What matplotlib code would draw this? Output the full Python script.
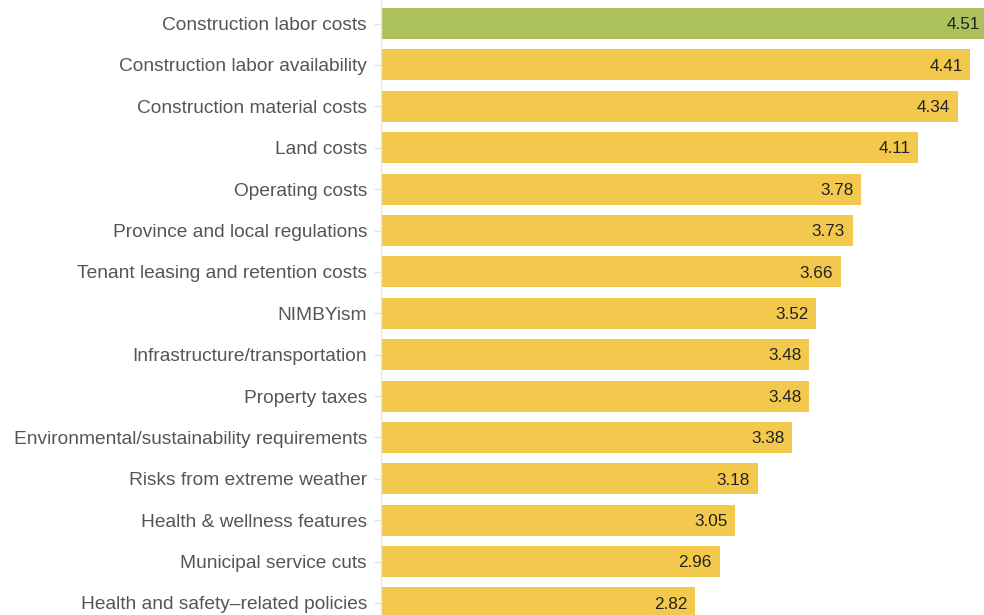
import matplotlib.pyplot as plt

labels = [
    'Construction labor costs',
    'Construction labor availability',
    'Construction material costs',
    'Land costs',
    'Operating costs',
    'Province and local regulations',
    'Tenant leasing and retention costs',
    'NIMBYism',
    'Infrastructure/transportation',
    'Property taxes',
    'Environmental/sustainability requirements',
    'Risks from extreme weather',
    'Health & wellness features',
    'Municipal service cuts',
    'Health and safety\u2013related policies',
]
values = [4.51, 4.41, 4.34, 4.11, 3.78, 3.73, 3.66, 3.52, 3.48, 3.48, 3.38, 3.18, 3.05, 2.96, 2.82]

GREEN = '#adc05e'
YELLOW = '#f2c94c'


def main():
    plt.rcParams['font.family'] = ['Liberation Sans', 'DejaVu Sans']
    fig = plt.figure(figsize=(9.84, 6.15), dpi=100)
    ax = fig.add_axes([381 / 984, 0, 1 - 381 / 984, 1])

    colors = [GREEN] + [YELLOW] * (len(values) - 1)
    base = 1.0
    ypos = list(range(len(values)))
    ax.barh(ypos, [v - base for v in values], left=base, height=0.75,
            color=colors, edgecolor='none')

    for y, v in zip(ypos, values):
        ax.text(v - 0.045, y + 0.03, f'{v:.2f}', ha='right', va='center',
                fontsize=12.3, color='#222222')

    ax.set_xlim(1.0, 4.49)
    ax.set_ylim(14.29, -0.57)
    ax.set_yticks(ypos)
    ax.set_yticklabels(labels, fontsize=13.8, color='#555555')
    ax.tick_params(axis='y', length=5, color='#e0e0e0', pad=5)
    ax.set_xticks([])
    for side in ['top', 'right', 'bottom']:
        ax.spines[side].set_visible(False)
    ax.spines['left'].set_color('#e6e6e6')
    ax.spines['left'].set_linewidth(1)

    fig.savefig('out.png', dpi=100)


if __name__ == '__main__':
    main()
